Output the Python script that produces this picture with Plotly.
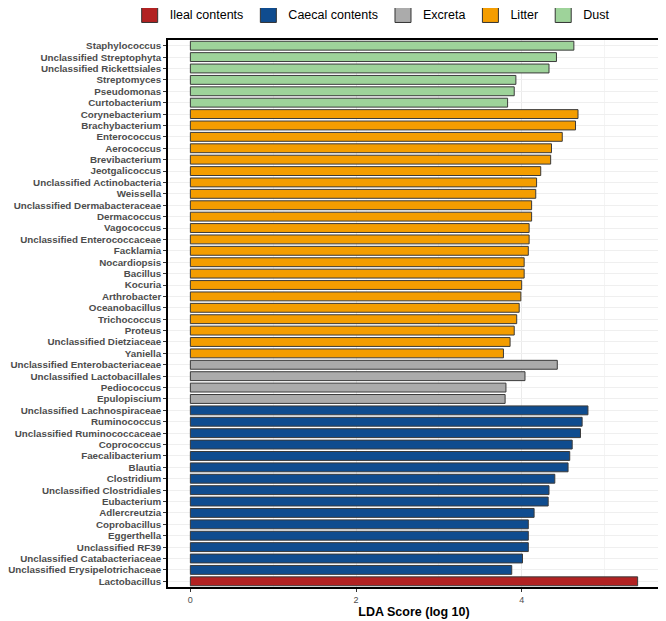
import plotly.graph_objects as go

# Taxa listed top to bottom as in the chart
taxa = [
    "Staphylococcus", "Unclassified Streptophyta", "Unclassified Rickettsiales", "Streptomyces",
    "Pseudomonas", "Curtobacterium",
    "Corynebacterium", "Brachybacterium", "Enterococcus", "Aerococcus", "Brevibacterium",
    "Jeotgalicoccus", "Unclassified Actinobacteria", "Weissella", "Unclassified Dermabacteraceae",
    "Dermacoccus", "Vagococcus", "Unclassified Enterococcaceae", "Facklamia", "Nocardiopsis",
    "Bacillus", "Kocuria", "Arthrobacter", "Oceanobacillus", "Trichococcus", "Proteus",
    "Unclassified Dietziaceae", "Yaniella",
    "Unclassified Enterobacteriaceae", "Unclassified Lactobacillales", "Pediococcus", "Epulopiscium",
    "Unclassified Lachnospiraceae", "Ruminococcus", "Unclassified Ruminococcaceae", "Coprococcus",
    "Faecalibacterium", "Blautia", "Clostridium", "Unclassified Clostridiales", "Eubacterium",
    "Adlercreutzia", "Coprobacillus", "Eggerthella", "Unclassified RF39",
    "Unclassified Catabacteriaceae", "Unclassified Erysipelotrichaceae",
    "Lactobacillus",
]

lda = [
    4.63, 4.42, 4.33, 3.93, 3.91, 3.83,
    4.68, 4.65, 4.49, 4.36, 4.35, 4.23, 4.18, 4.17, 4.12, 4.12, 4.09, 4.09, 4.08, 4.03,
    4.03, 4.00, 3.99, 3.97, 3.94, 3.91, 3.86, 3.78,
    4.43, 4.04, 3.81, 3.80,
    4.80, 4.73, 4.71, 4.61, 4.58, 4.56, 4.40, 4.33, 4.32, 4.15, 4.08, 4.08, 4.08, 4.01, 3.88,
    5.40,
]

group = (["Dust"] * 6 + ["Litter"] * 22 + ["Excreta"] * 4 + ["Caecal contents"] * 15
         + ["Ileal contents"] * 1)

groups = ["Ileal contents", "Caecal contents", "Excreta", "Litter", "Dust"]
colors = ["#B22222", "#0F4C8F", "#ABABAB", "#F49D00", "#9ED39A"]

x_ticks = [0, 2, 4]

fig = go.Figure()
for g, c in zip(groups, colors):
    ys = [t for t, gg in zip(taxa, group) if gg == g]
    xs = [v for v, gg in zip(lda, group) if gg == g]
    fig.add_trace(go.Bar(
        x=xs, y=ys, name=g, orientation="h", showlegend=False, legendgroup=g,
        marker=dict(color=c, line=dict(color="#3a3a3a", width=1)),
        width=0.78,
    ))
# legend entries with larger square swatches
for g, c in zip(groups, colors):
    fig.add_trace(go.Scatter(
        x=[None], y=[None], mode="markers", name=g, legendgroup=g,
        marker=dict(symbol="square", size=16, color=c, line=dict(color="#333333", width=1)),
    ))

fig.update_layout(
    width=658, height=613,
    margin=dict(l=160, r=6, t=32, b=34, autoexpand=False),
    plot_bgcolor="white", paper_bgcolor="white",
    font=dict(family="Liberation Sans, Arial, sans-serif", color="black"),
    barmode="overlay",
    showlegend=True,
    legend=dict(orientation="h", x=0.415, xanchor="center", y=1.046, yanchor="middle",
                font=dict(size=12.5, color="black"),
                traceorder="normal", itemwidth=30, itemsizing="trace",
                tracegroupgap=0, bgcolor="rgba(0,0,0,0)"),
    xaxis=dict(
        range=[-0.27, 5.67], tickvals=x_ticks, ticktext=[str(v) for v in x_ticks],
        showgrid=True, gridcolor="#EBEBEB", gridwidth=1,
        minor=dict(tickvals=[1, 3, 5], showgrid=True, gridcolor="#F4F4F4", gridwidth=0.6),
        ticks="outside", ticklen=3, tickcolor="#333333",
        tickfont=dict(size=9, color="#4D4D4D"),
        showline=True, linecolor="black", linewidth=1.6, mirror=True, zeroline=False,
        automargin=False,
        title=dict(text="<b>LDA Score (log 10)</b>", font=dict(size=12.5, color="black"), standoff=3),
    ),
    yaxis=dict(
        type="category", categoryorder="array", categoryarray=taxa,
        autorange="reversed", automargin=False,
        showgrid=True, gridcolor="#EFEFEF", gridwidth=1,
        ticks="outside", ticklen=3, tickcolor="#333333",
        tickfont=dict(size=9.8, color="#4D4D4D", family="Liberation Sans, Arial, sans-serif"),
        showline=True, linecolor="black", linewidth=1.6, mirror=True,
    ),
)
fig.update_yaxes(ticktext=["<b>" + t + "</b>" for t in taxa], tickvals=taxa)

fig.write_html("out.html")
